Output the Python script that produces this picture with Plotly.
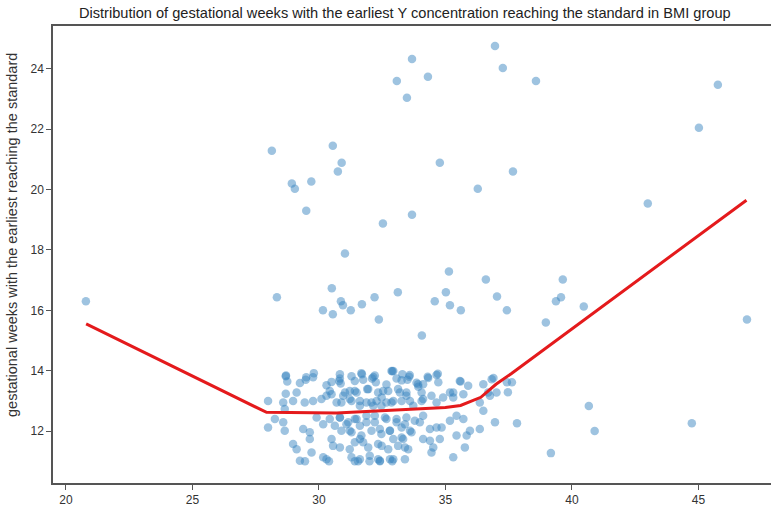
import plotly.graph_objects as go

TITLE = "Distribution of gestational weeks with the earliest Y concentration reaching the standard in BMI group"
Y_TITLE = "gestational weeks with the earliest reaching the standard"

# scattered (outlying) observations: BMI, gestational week
outlier_bmi = [20.79, 28.14, 28.34, 28.93, 29.05, 29.50, 29.70, 30.55, 30.75, 30.90, 31.03, 30.51,
               30.16, 30.55, 30.87, 30.95, 31.26, 31.70, 32.20, 32.37, 32.53, 33.08, 33.12, 33.48,
               33.68, 33.68, 34.07, 34.31, 34.58, 34.78, 35.02, 35.14, 35.18, 35.61, 36.28, 36.60,
               36.96, 37.04, 37.27, 37.43, 37.67, 38.58, 38.97, 39.37, 39.57, 39.64, 40.47, 40.67,
               40.90, 39.17, 37.83, 37.43, 37.63, 37.47, 43.00, 45.02, 45.77, 44.74, 46.92]
outlier_weeks = [16.30, 21.29, 16.43, 20.20, 20.03, 19.30, 20.27, 21.45, 20.60, 20.89, 17.88, 16.73,
                 16.00, 15.87, 16.30, 16.17, 16.00, 16.20, 16.43, 15.70, 18.88, 23.60, 16.60, 23.04,
                 24.33, 19.17, 15.17, 23.74, 16.30, 20.89, 16.60, 17.29, 16.17, 16.00, 20.03, 17.02,
                 24.76, 16.46, 24.03, 16.00, 20.60, 23.60, 15.60, 16.30, 16.43, 17.02, 16.13, 12.83,
                 12.00, 11.27, 12.26, 13.62, 13.62, 13.29, 19.54, 22.05, 23.47, 12.26, 15.70]

# dense cluster of observations: BMI, gestational week
cluster_bmi = [28.69, 28.75, 29.25, 29.48, 29.77, 29.12, 28.69, 30.30, 30.50, 30.43, 30.83, 30.86,
               31.29, 31.22, 31.42, 31.75, 31.91, 32.15, 32.25, 32.54, 32.67, 32.94, 33.07, 33.27,
               33.57, 33.86, 33.93, 34.12, 34.06, 34.32, 34.65, 34.72, 35.18, 35.57, 35.90, 35.31,
               36.50, 36.69, 36.83,
               27.99, 28.59, 28.65, 28.98, 29.44, 29.77, 30.10, 30.30, 30.50, 30.70, 30.96, 31.22,
               31.49, 31.62, 31.88, 32.15, 32.28, 32.48, 32.67, 32.94, 33.20, 33.46, 33.60, 33.73,
               34.12, 34.45, 34.65, 34.91, 35.31, 35.71, 36.36, 36.50, 36.76, 37.02,
               27.99, 28.26, 28.59, 28.65, 29.38, 29.64, 29.91, 30.17, 30.43, 30.63, 30.83, 31.09,
               31.22, 31.42, 31.62, 31.88, 32.21, 32.41, 32.67, 32.81, 33.07, 33.27, 33.46, 33.60,
               33.99, 34.12, 34.39, 34.65, 34.85, 35.18, 35.44, 35.71, 35.97, 36.36, 36.96,
               28.98, 29.12, 29.25, 29.64, 29.71, 30.17, 30.30, 30.50, 30.56, 30.83, 31.22, 31.29,
               31.62, 31.75, 32.01, 32.34, 32.48, 32.81, 32.94, 33.33, 33.40, 33.40, 34.12, 34.39,
               34.52, 34.45, 34.78, 35.31, 35.44, 35.77, 35.84,
               29.45, 30.40, 31.42, 31.55, 32.00, 32.41, 32.90,
               28.70, 29.50, 29.80, 30.80, 31.70, 32.10, 32.90, 33.30, 33.50, 34.30, 34.70, 35.60, 36.90,
               30.83, 31.68, 32.21, 32.87, 33.59, 33.92, 31.03, 31.42, 31.95, 32.34, 32.74, 33.13,
               33.46, 30.89, 31.29, 31.62, 32.08, 32.47, 32.87, 33.27, 34.06, 30.83, 31.16, 31.49,
               31.88, 32.21, 32.61, 33.07, 33.40, 33.79, 30.89, 31.29, 31.68, 32.08, 32.47, 32.80,
               33.27, 33.66, 31.42, 31.95, 32.34, 32.74, 33.13, 33.53, 31.62, 32.41, 32.94]
cluster_weeks = [13.82, 13.64, 13.59, 13.70, 13.78, 13.28, 13.24, 13.52, 13.63, 13.33, 13.74, 13.58,
                 13.82, 13.33, 13.66, 13.70, 13.39, 13.79, 13.62, 13.33, 13.54, 13.99, 13.74, 13.68,
                 13.80, 13.60, 13.47, 13.55, 13.28, 13.76, 13.86, 13.62, 13.28, 13.66, 13.50, 13.28,
                 13.55, 13.28, 13.72,
                 13.00, 12.95, 12.73, 13.00, 12.95, 13.00, 13.06, 13.17, 13.22, 12.95, 13.17, 13.06,
                 13.28, 13.00, 12.95, 12.84, 13.00, 13.11, 12.95, 13.00, 13.28, 13.17, 13.00, 12.84,
                 13.06, 13.17, 12.95, 13.11, 13.11, 13.22, 12.95, 12.67, 13.17, 13.28,
                 12.12, 12.40, 12.29, 12.01, 12.07, 11.96, 12.45, 12.23, 12.40, 12.18, 12.45, 12.23,
                 12.01, 12.40, 12.18, 12.29, 12.51, 12.07, 12.40, 12.01, 12.29, 12.12, 12.45, 12.01,
                 12.29, 12.51, 12.07, 12.12, 12.12, 12.34, 12.51, 12.40, 12.01, 12.07, 12.29,
                 11.57, 11.40, 11.02, 11.74, 11.29, 11.13, 11.07, 11.74, 11.51, 11.46, 11.40, 11.13,
                 11.74, 11.63, 11.18, 11.07, 11.51, 11.07, 11.74, 11.74, 11.46, 11.07, 11.74, 11.68,
                 11.46, 11.29, 11.74, 11.13, 11.85, 11.46, 11.85,
                 11.00, 11.00, 11.00, 11.00, 11.00, 11.00, 11.00,
                 13.84, 13.78, 13.92, 13.66, 13.88, 13.74, 13.98, 13.88, 13.70, 13.80, 13.90, 13.64, 13.76,
                 13.88, 13.92, 13.84, 13.99, 13.86, 13.55, 13.28, 13.33, 13.39, 13.28, 13.33, 13.39,
                 13.28, 12.95, 13.00, 12.84, 12.95, 12.84, 12.95, 13.00, 13.00, 12.45, 12.29, 12.40,
                 12.51, 12.29, 12.45, 12.40, 12.23, 12.34, 12.01, 11.96, 11.85, 12.01, 11.90, 12.01,
                 11.79, 11.96, 11.63, 11.46, 11.57, 11.40, 11.51, 11.40, 11.07, 11.02, 11.07]

# fitted trend line
fit_bmi = [20.80, 27.93, 30.70, 34.00, 35.00, 35.60, 36.40, 37.00, 37.60, 46.90]
fit_weeks = [15.55, 12.62, 12.60, 12.73, 12.78, 12.85, 13.12, 13.55, 13.90, 19.65]

X_TICKS = [20, 25, 30, 35, 40, 45]
Y_TICKS = [12, 14, 16, 18, 20, 22, 24]

FONT = "Liberation Sans, Arial, sans-serif"

fig = go.Figure()
fig.add_trace(go.Scatter(
    x=outlier_bmi + cluster_bmi, y=outlier_weeks + cluster_weeks,
    mode="markers",
    marker=dict(size=8.5, color="rgba(52,130,190,0.48)", line=dict(width=0)),
    showlegend=False, hoverinfo="x+y"))
fig.add_trace(go.Scatter(
    x=fit_bmi, y=fit_weeks, mode="lines",
    line=dict(color="#e41a1c", width=3),
    showlegend=False))

fig.update_layout(
    width=771, height=508,
    margin=dict(l=53, r=0, t=26, b=25),
    paper_bgcolor="white", plot_bgcolor="white",
    font=dict(family=FONT, size=12, color="#333333"),
    title=dict(text=TITLE, x=0.525, xanchor="center", y=0.975, yanchor="middle",
               font=dict(family=FONT, size=14.6, color="#222222")),
    xaxis=dict(range=[19.49, 47.87], tickvals=X_TICKS, showgrid=False, zeroline=False,
               showline=True, linecolor="#555555", linewidth=1.5, mirror=True,
               ticks="outside", ticklen=5, tickcolor="#555555",
               tickfont=dict(size=12, color="#333333")),
    yaxis=dict(range=[10.28, 25.42], tickvals=Y_TICKS, showgrid=False, zeroline=False,
               showline=True, linecolor="#555555", linewidth=1.5,
               ticks="outside", ticklen=5, tickcolor="#555555",
               tickfont=dict(size=12, color="#333333")),
    annotations=[dict(text=Y_TITLE, textangle=-90, showarrow=False,
                      xref="paper", yref="paper", x=-53 / 718 + 12 / 718, y=(483 - 235) / 457,
                      xanchor="center", yanchor="middle",
                      font=dict(family=FONT, size=14.5, color="#333333"))],
)

fig.write_html("out.html")
